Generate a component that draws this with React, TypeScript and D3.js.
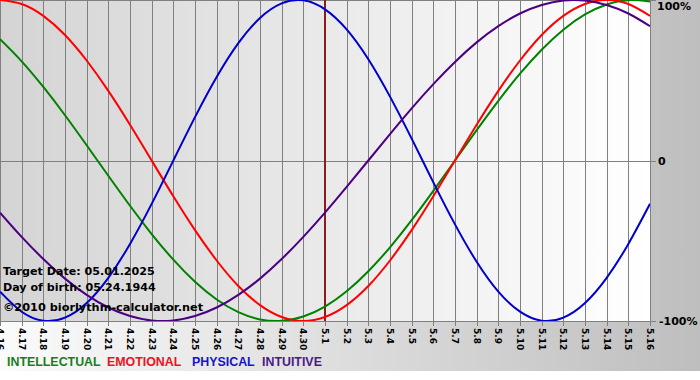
import React from "react";
import * as d3 from "d3";

const dayLabels = [
  "4.16","4.17","4.18","4.19","4.20","4.21","4.22","4.23","4.24","4.25","4.26","4.27","4.28","4.29","4.30",
  "5.1","5.2","5.3","5.4","5.5","5.6","5.7","5.8","5.9","5.10","5.11","5.12","5.13","5.14","5.15","5.16",
];

const physical = [-0.817,-0.942,-0.998,-0.979,-0.888,-0.731,-0.52,-0.27,0,0.27,0.52,0.731,0.888,0.979,0.998,0.942,0.817,0.631,0.398,0.136,-0.136,-0.398,-0.631,-0.817,-0.942,-0.998,-0.979,-0.888,-0.731,-0.52,-0.27];
const emotional = [1,0.975,0.901,0.782,0.623,0.434,0.223,0,-0.223,-0.434,-0.623,-0.782,-0.901,-0.975,-1,-0.975,-0.901,-0.782,-0.623,-0.434,-0.223,0,0.223,0.434,0.623,0.782,0.901,0.975,1,0.975,0.901];
const intellectual = [0.756,0.618,0.458,0.282,0.095,-0.095,-0.282,-0.458,-0.618,-0.756,-0.866,-0.945,-0.99,-0.999,-0.972,-0.91,-0.815,-0.69,-0.541,-0.372,-0.189,0,0.189,0.372,0.541,0.69,0.815,0.91,0.972,0.999,0.99];
const intuitive = [-0.325,-0.476,-0.614,-0.736,-0.837,-0.916,-0.969,-0.997,-0.997,-0.969,-0.916,-0.837,-0.736,-0.614,-0.476,-0.325,-0.165,0,0.165,0.325,0.476,0.614,0.736,0.837,0.916,0.969,0.997,0.997,0.969,0.916,0.837];

const seriesNames = ["INTELLECTUAL", "EMOTIONAL", "PHYSICAL", "INTUITIVE"];
const yTickLabels = ["100%", "0", "-100%"];
const yTickValues = [1, 0, -1];
const targetIndex = 15;
const infoLines = ["Target Date: 05.01.2025", "Day of birth: 05.24.1944"];
const copyright = "©2010 biorlythm-calculator.net";

const W = 700;
const H = 380;
const plotW = 650;
const plotH = 321;

export default function App() {
  const x = d3.scaleLinear().domain([0, dayLabels.length - 1]).range([0, plotW]);
  const y = d3.scaleLinear().domain([-1, 1]).range([plotH, 0]);
  const line = d3
    .line<number>()
    .x((_, i) => x(i))
    .y((d) => y(d))
    .curve(d3.curveNatural);

  const series = [
    { name: seriesNames[0], data: intellectual, color: "#008000", legend: "#1a7d1a" },
    { name: seriesNames[1], data: emotional, color: "#ff0000", legend: "#ee1122" },
    { name: seriesNames[2], data: physical, color: "#0000cc", legend: "#1414d0" },
    { name: seriesNames[3], data: intuitive, color: "#4b0082", legend: "#4a1a8a" },
  ];

  const legendX = [7, 107, 192, 262];

  return (
    <svg
      width={W}
      height={H}
      style={{ position: "absolute", left: 0, top: 0, display: "block" }}
    >
      <defs>
        <linearGradient id="outerBg" x1="0" x2="1" y1="0" y2="0">
          <stop offset="0%" stopColor="#fbfbfb" />
          <stop offset="100%" stopColor="#bebebe" />
        </linearGradient>
        <linearGradient id="plotBg" x1="0" x2="1" y1="0" y2="0">
          <stop offset="0%" stopColor="#d4d4d4" />
          <stop offset="100%" stopColor="#ffffff" />
        </linearGradient>
        <clipPath id="plotClip">
          <rect x={0} y={0} width={plotW} height={plotH} />
        </clipPath>
      </defs>
      <rect x={0} y={0} width={W} height={H} fill="#ffffff" />
      <rect x={0} y={0} width={W} height={371} fill="url(#outerBg)" />
      <rect x={0} y={0} width={plotW} height={plotH} fill="url(#plotBg)" />

      {dayLabels.map((lab, i) => (
        <line
          key={"g" + i}
          x1={Math.round(x(i)) + 0.5}
          x2={Math.round(x(i)) + 0.5}
          y1={0}
          y2={plotH + 5}
          stroke="#808080"
          strokeWidth={1}
        />
      ))}
      {yTickValues.map((v, i) => (
        <line
          key={"h" + i}
          x1={0}
          x2={plotW + 6}
          y1={Math.round(y(v)) + 0.5}
          y2={Math.round(y(v)) + 0.5}
          stroke="#808080"
          strokeWidth={1}
        />
      ))}

      <line
        x1={x(targetIndex)}
        x2={x(targetIndex)}
        y1={0}
        y2={plotH}
        stroke="#8b1c1c"
        strokeWidth={2}
      />

      <g clipPath="url(#plotClip)">
        {series.map((s) => (
          <path
            key={s.name}
            d={line(s.data) || ""}
            fill="none"
            stroke={s.color}
            strokeWidth={2}
          />
        ))}
      </g>

      <g fontFamily="'DejaVu Sans', Verdana, sans-serif" fontWeight="bold" fill="#000">
        {infoLines.map((t, i) => (
          <text key={t} x={3} y={275 + i * 16} fontSize={11.1}>
            {t}
          </text>
        ))}
        <text x={3} y={311} fontSize={11.3}>
          {copyright}
        </text>
      </g>

      <g fontFamily="'DejaVu Sans', Verdana, sans-serif" fontWeight="bold" fontSize={9} fill="#000">
        {dayLabels.map((lab, i) => (
          <text
            key={"l" + i}
            transform={`translate(${x(i)},${plotH + 7}) rotate(90)`}
            dominantBaseline="central"
            textAnchor="start"
          >
            {lab}
          </text>
        ))}
      </g>

      <g fontFamily="'DejaVu Sans', Verdana, sans-serif" fontWeight="bold" fontSize={11} fill="#000">
        {yTickValues.map((v, i) => (
          <text key={"y" + i} x={i === 2 ? 659 : i === 1 ? 658 : 657} y={y(v) + (i === 0 ? 10 : 4)}>
            {yTickLabels[i]}
          </text>
        ))}
      </g>

      <g fontFamily="'Liberation Sans', Arial, sans-serif" fontWeight="bold" fontSize={12.4}>
        {series.map((s, i) => (
          <text key={"lg" + i} x={legendX[i]} y={366} fill={s.legend}>
            {s.name}
          </text>
        ))}
      </g>
    </svg>
  );
}
